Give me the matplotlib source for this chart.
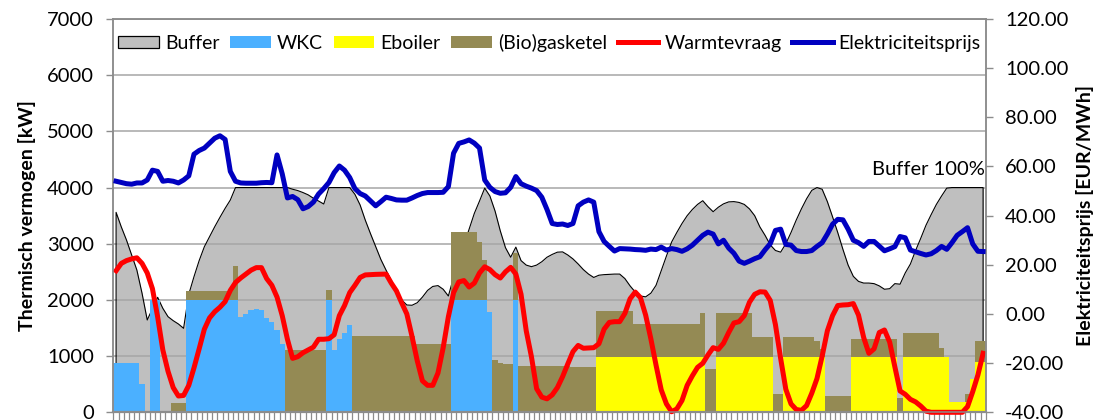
import numpy as np
import matplotlib
matplotlib.use("Agg")
import matplotlib.pyplot as plt
from matplotlib.patches import Patch
from matplotlib.lines import Line2D

plt.rcParams['font.family'] = ['Lato', 'DejaVu Sans']

# hourly series over one week (168 hours)
hours = np.arange(168)

buffer_kw = [
    3559, 3300, 3066, 2800, 2532, 2118, 1643, 1845, 2047, 1851,
    1702, 1631, 1572, 1495, 2100, 2413, 2700, 2947, 3125, 3303,
    3470, 3630, 3778, 4000, 4000, 4000, 4000, 4000, 4000, 4000,
    4000, 4000, 4000, 4000, 3970, 3946, 3911, 3870, 3810, 3760,
    3707, 4000, 4000, 4000, 4000, 4000, 3880, 3690, 3420, 3180,
    2950, 2720, 2530, 2350, 2130, 2000, 1910, 1905, 1950, 2050,
    2170, 2240, 2255, 2190, 2070, 2400, 2700, 2980, 3260, 3540,
    3760, 3990, 3850, 3580, 3230, 2930, 2760, 2940, 2700, 2620,
    2592, 2620, 2680, 2760, 2810, 2850, 2855, 2800, 2730, 2640,
    2540, 2460, 2400, 2440, 2450, 2455, 2460, 2460, 2380, 2250,
    2140, 2070, 2055, 2120, 2260, 2520, 2780, 3030, 3200, 3360,
    3500, 3610, 3700, 3766, 3660, 3570, 3650, 3710, 3745, 3750,
    3735, 3700, 3620, 3500, 3300, 3150, 2980, 2880, 2850, 3000,
    3200, 3420, 3620, 3800, 3950, 4000, 3970, 3750, 3480, 3200,
    2900, 2620, 2420, 2330, 2300, 2300, 2290, 2250, 2190, 2200,
    2290, 2280, 2480, 2640, 2880, 3100, 3330, 3520, 3700, 3850,
    3990, 4000, 4000, 4000, 4000, 4000, 4000, 4000,
]

wkc_kw = (
    [880] * 5 + [510, 0, 2000, 2000] + [0] * 5 + [2000] * 10
    + [1700, 1750, 1815, 1833, 1820, 1685, 1615, 1460, 1215]
    + [0] * 8 + [2000, 1100, 1300, 1410, 1550]
    + [0] * 19 + [2000] * 7 + [1790] + [0] * 4 + [2000] + [0] * 90
)

eboiler_kw = (
    [0] * 93 + [990] * 21 + [0] * 2 + [990] * 11 + [0] * 2 + [990] * 8
    + [0] * 5 + [990] * 9 + [0] + [990] * 9 + [180] * 4 + [590]
    + [890] * 2
)

gasketel_kw = (
    [0] * 11 + [160] * 3 + [158] * 9 + [600] + [0] * 9 + [1110] * 8
    + [170] + [0] * 4 + [1363] * 12 + [1210] * 7 + [1210] * 5
    + [1025, 710, 0, 931, 883, 865, 860, 830] + [825] * 10 + [800] * 5
    + [813] * 7 + [582] * 13 + [772] + [765] * 2 + [772] * 7 + [356] * 4
    + [326] * 2 + [345] * 6 + [280, 137] + [290] * 5 + [309] * 9 + [250]
    + [427] * 7 + [149, 0] + [0] * 3 + [140, 0] + [385] * 2
)

warmtevraag_kw = [
    2520, 2650, 2700, 2730, 2750, 2650, 2480, 2200, 1700, 1110,
    730, 440, 290, 300, 480, 790, 1130, 1480, 1680, 1790,
    1870, 1970, 2170, 2310, 2390, 2460, 2530, 2575, 2575, 2380,
    2260, 2050, 1720, 1300, 960, 990, 1060, 1110, 1160, 1300,
    1300, 1310, 1380, 1720, 1900, 2130, 2260, 2400, 2445, 2450,
    2455, 2458, 2460, 2300, 2160, 1950, 1750, 1350, 920, 560,
    480, 480, 700, 1150, 1700, 2130, 2320, 2345, 2230, 2300,
    2480, 2590, 2540, 2450, 2390, 2500, 2580, 2460, 2100, 1450,
    990, 420, 270, 240, 310, 440, 634, 860, 1080, 1190,
    1140, 1145, 1150, 1220, 1480, 1600, 1613, 1613, 1760, 2020,
    2140, 2040, 1730, 1310, 840, 400, 150, 10, 60, 210,
    480, 650, 800, 872, 1020, 1150, 1120, 1230, 1420, 1590,
    1613, 1720, 1960, 2100, 2145, 2140, 1990, 1560, 960, 410,
    150, 50, 35, 120, 340, 600, 1000, 1450, 1720, 1900,
    1910, 1915, 1935, 1730, 1330, 1050, 1130, 1420, 1465, 1250,
    810, 380, 320, 230, 185, 110, 20, 0, 0, 0,
    0, 0, 0, 0, 100, 367, 664, 1050,
]

prijs_eur = [
    54.0, 53.5, 53.0, 52.8, 53.3, 53.3, 54.5, 58.5, 58.0, 54.0,
    54.3, 54.0, 53.3, 54.5, 56.2, 65.0, 66.5, 67.5, 69.5, 71.5,
    72.5, 71.0, 58.0, 54.0, 53.3, 53.2, 53.2, 53.2, 53.4, 53.5,
    53.4, 64.7, 57.0, 47.2, 47.8, 46.5, 42.8, 43.7, 45.5, 48.8,
    51.0, 53.5, 57.5, 60.2, 58.5, 55.5, 51.0, 49.0, 48.0, 46.0,
    44.0, 45.7, 47.5, 47.0, 46.4, 46.3, 46.3, 47.2, 48.2, 49.0,
    49.4, 49.4, 49.4, 49.5, 51.8, 65.4, 69.4, 70.0, 70.8, 69.5,
    67.5, 54.5, 51.5, 49.8, 49.1, 49.3, 51.5, 55.9, 53.0, 52.0,
    51.2, 50.2, 47.5, 42.5, 36.8, 36.4, 36.6, 36.0, 36.8, 44.0,
    45.5, 46.4, 45.5, 33.5, 29.5, 27.5, 25.6, 26.6, 26.5, 26.4,
    26.2, 26.1, 25.9, 26.4, 26.2, 27.2, 26.0, 26.6, 26.2, 25.5,
    26.5, 28.0, 30.0, 32.0, 33.3, 32.5, 28.5, 30.0, 26.8, 24.7,
    21.5, 20.6, 21.5, 22.5, 23.3, 26.1, 28.6, 34.0, 34.5, 28.3,
    28.0, 25.8, 25.4, 25.4, 25.8, 27.5, 29.0, 32.5, 36.5, 38.5,
    38.3, 34.5, 30.0, 29.0, 27.5, 29.5, 29.5, 27.6, 25.7, 26.5,
    27.4, 31.5, 31.0, 26.0, 25.3, 24.6, 24.0, 24.5, 25.8, 27.5,
    26.3, 29.0, 32.0, 33.5, 35.1, 28.5, 25.5, 25.4,
]

y_left_ticks = list(range(0, 7001, 1000))
y_right_ticks = list(range(-40, 121, 20))

c_buffer = '#BFBFBF'
c_wkc = '#4BB0FF'
c_eboiler = '#FFFF00'
c_gas = '#948A54'
c_warmte = '#FF0000'
c_prijs = '#0000C0'
c_grid = '#A6A6A6'
c_axis = '#8C8C8C'

FS = 14.5

buf = np.array(buffer_kw, float)
wkc = np.array(wkc_kw, float)
ebo = np.array(eboiler_kw, float)
gas = np.array(gasketel_kw, float)

fig = plt.figure(figsize=(10.97, 4.2), dpi=100)
ax = fig.add_axes([113.5 / 1097, 7.7 / 420, 872.2 / 1097, 393.3 / 420])
ax.set_xlim(-0.5, 167.5)
ax.set_ylim(0, 7000)

# horizontal gridlines
for t in y_left_ticks[1:]:
    ax.axhline(t, color=c_grid, lw=1.1, zorder=1)

# buffer content as a filled area with thin black outline
ax.fill_between(hours, 0, buf, color=c_buffer, lw=0, zorder=0.5)
ax.plot(np.r_[hours[0], hours, hours[-1]], np.r_[0, buf, 0],
        color='black', lw=0.8, zorder=1.5)


def stacked(values, bottom, color):
    m = values > 0
    ax.bar(hours[m], values[m], bottom=bottom[m], width=1.0, color=color,
           lw=0, antialiased=False, zorder=2)


zero = np.zeros_like(wkc)
stacked(wkc, zero, c_wkc)
stacked(ebo, wkc, c_eboiler)
stacked(gas, wkc + ebo, c_gas)

ax.plot(hours, warmtevraag_kw, color=c_warmte, lw=3.6, zorder=3,
        solid_joinstyle='round', clip_on=False)

ax2 = ax.twinx()
ax2.set_ylim(-40, 120)
ax2.plot(hours, prijs_eur, color=c_prijs, lw=3.6, zorder=3,
         solid_joinstyle='round')

ax.set_yticks(y_left_ticks)
ax.set_yticklabels([str(t) for t in y_left_ticks])
ax2.set_yticks(y_right_ticks)
ax2.set_yticklabels([f'{t:.2f}' for t in y_right_ticks])

ax.set_xticks(np.arange(-0.5, 168, 1.0))
ax.set_xticklabels([])
ax.tick_params(axis='x', direction='out', length=5.5, width=0.9,
               color=c_axis)
ax.tick_params(axis='y', direction='out', length=5, width=1.0,
               color=c_axis, labelsize=FS, pad=9)
ax2.tick_params(axis='y', direction='out', length=5, width=1.0,
                color=c_axis, labelsize=FS, pad=9)

for a in (ax, ax2):
    for s in a.spines.values():
        s.set_color(c_axis)
        s.set_linewidth(1.1)
ax.spines['bottom'].set_linewidth(1.6)

ax.set_ylabel('Thermisch vermogen [kW]', fontsize=FS - 0.5,
              fontweight='bold')
ax.yaxis.set_label_coords(-0.0885, 0.5)
ax2.set_ylabel('Elektriciteitsprijs [EUR/MWh]', fontsize=FS - 0.5,
               fontweight='bold')
ax2.yaxis.set_label_coords(1.104, 0.5)

ax.text(167.3, 4230, 'Buffer 100%', ha='right', va='baseline', fontsize=FS,
        zorder=4)

handles = [
    Patch(facecolor=c_buffer, edgecolor='black', lw=0.9),
    Patch(facecolor=c_wkc, lw=0),
    Patch(facecolor=c_eboiler, lw=0),
    Patch(facecolor=c_gas, lw=0),
    Line2D([], [], color=c_warmte, lw=3.6),
    Line2D([], [], color=c_prijs, lw=3.6),
]
labels = ['Buffer', 'WKC', 'Eboiler', '(Bio)gasketel', 'Warmtevraag',
          'Elektriciteitsprijs']
ax2.legend(handles, labels, loc='center', bbox_to_anchor=(0.5, 0.94),
           ncol=6, frameon=False, fontsize=14, handlelength=2.1,
           handleheight=0.6, handletextpad=0.3, columnspacing=0.55,
           borderaxespad=0, borderpad=0)

fig.savefig('out.png', dpi=100)
